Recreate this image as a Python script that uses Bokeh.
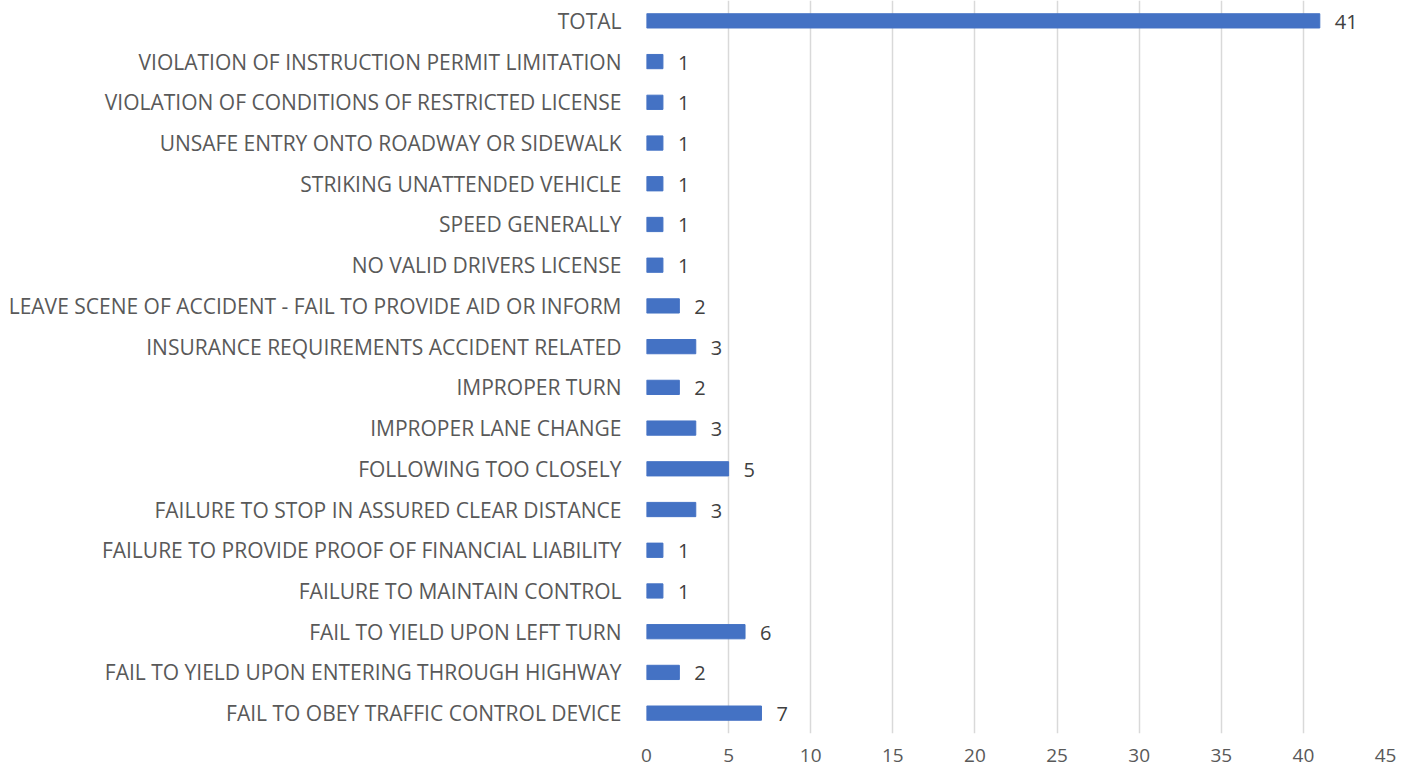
from bokeh.plotting import figure
from bokeh.models import ColumnDataSource, FactorRange, Range1d, LabelSet, FixedTicker
from bokeh.core.properties import value
from bokeh.embed import file_html
from bokeh.resources import INLINE

categories = [
    "FAIL TO OBEY TRAFFIC CONTROL DEVICE",
    "FAIL TO YIELD UPON ENTERING THROUGH HIGHWAY",
    "FAIL TO YIELD UPON LEFT TURN",
    "FAILURE TO MAINTAIN CONTROL",
    "FAILURE TO PROVIDE PROOF OF FINANCIAL LIABILITY",
    "FAILURE TO STOP IN ASSURED CLEAR DISTANCE",
    "FOLLOWING TOO CLOSELY",
    "IMPROPER LANE CHANGE",
    "IMPROPER TURN",
    "INSURANCE REQUIREMENTS ACCIDENT RELATED",
    "LEAVE SCENE OF ACCIDENT - FAIL TO PROVIDE AID OR INFORM",
    "NO VALID DRIVERS LICENSE",
    "SPEED GENERALLY",
    "STRIKING UNATTENDED VEHICLE",
    "UNSAFE ENTRY ONTO ROADWAY OR SIDEWALK",
    "VIOLATION OF CONDITIONS OF RESTRICTED LICENSE",
    "VIOLATION OF INSTRUCTION PERMIT LIMITATION",
    "TOTAL",
]
counts = [7, 2, 6, 1, 1, 3, 5, 3, 2, 3, 2, 1, 1, 1, 1, 1, 1, 41]
x_ticks = [0, 5, 10, 15, 20, 25, 30, 35, 40, 45]

source = ColumnDataSource(data=dict(cat=categories, val=counts, lbl=[str(c) for c in counts]))

FONT = "Open Sans"
p = figure(
    y_range=FactorRange(*categories, range_padding=0),
    x_range=Range1d(0, 45),
    width=1407, height=767,
    output_backend="svg", toolbar_location=None,
    min_border_left=646, min_border_right=22, min_border_top=0, min_border_bottom=34,
)
p.outline_line_color = None
p.background_fill_color = "white"
p.border_fill_color = "white"

p.hbar(y="cat", right="val", left=0, height=0.35, source=source, color="#4472C4")

labels = LabelSet(x="val", y="cat", text="lbl", source=source, x_offset=15, y_offset=-1,
                  text_baseline="middle", text_align="left", text_font=value(FONT),
                  text_font_size="20px", text_color="#404040")
p.add_layout(labels)

p.xaxis.ticker = FixedTicker(ticks=x_ticks)
p.xaxis.axis_line_color = None
p.xaxis.major_tick_line_color = None
p.xaxis.minor_tick_line_color = None
p.xaxis.major_label_text_font = FONT
p.xaxis.major_label_text_font_size = "19px"
p.xaxis.major_label_text_color = "#595959"
p.xaxis.major_label_standoff = 9

p.yaxis.axis_line_color = None
p.yaxis.major_tick_line_color = None
p.yaxis.minor_tick_line_color = None
p.yaxis.major_label_text_font = FONT
p.yaxis.major_label_text_font_size = "21px"
p.yaxis.major_label_text_color = "#595959"
p.yaxis.major_label_standoff = 19

p.xgrid.grid_line_color = "#d9d9d9"
p.xgrid.grid_line_width = 1.5
p.ygrid.grid_line_color = None

open("out.html", "w").write(file_html(p, INLINE))
